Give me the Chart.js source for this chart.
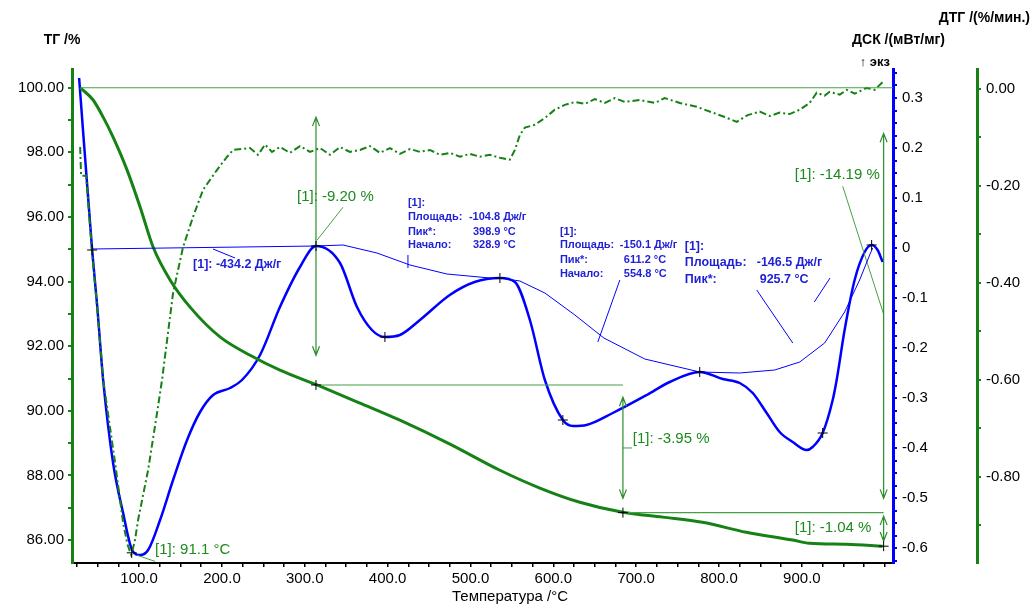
<!DOCTYPE html>
<html>
<head>
<meta charset="utf-8">
<script src="https://cdn.jsdelivr.net/npm/chart.js@4.4.0/dist/chart.umd.min.js"></script>
<style>
    html, body { margin: 0; padding: 0; background: #fff; }
    #wrap { width: 1031px; height: 605px; position: relative; }
</style>
</head>
<body>
<div id="wrap"><canvas id="chart" width="1031" height="605"></canvas></div>
<script>
// ТГ, % (left axis)
const tgTemp   = [29, 44.5, 56.6, 68.6, 85.5, 101.2, 116.9, 137.4, 161.5, 198, 234, 270, 314.7, 366.6, 414.8, 475.2, 535.5, 583.7, 632, 683.8, 732, 780, 833, 889, 909, 954, 997.5];
const tgValues = [100.0, 99.62, 99.09, 98.47, 97.45, 96.31, 95.07, 94.05, 93.21, 92.28, 91.72, 91.26, 90.80, 90.24, 89.71, 88.97, 88.16, 87.61, 87.17, 86.86, 86.71, 86.55, 86.24, 86.0, 85.9, 85.87, 85.81];

// ДСК, мВт/мг (inner right axis)
const dscTemp   = [27.6, 43.3, 49.3, 56.6, 68.6, 80.7, 91.6, 101.2, 110.9, 125.3, 141, 157.9, 173.6, 189.3, 209.8, 224.2, 246, 270, 294.2, 313.5, 342.5, 363, 381, 396.7, 414.8, 439, 475, 505, 535.5, 553.6, 571.7, 589.8, 611.5, 624, 640, 671.8, 712.8, 740.5, 776.7, 804.5, 825, 840.7, 857.5, 873.2, 888.9, 905.8, 913, 925.1, 937.2, 942, 951.6, 963.7, 975.8, 984.2, 991.4, 997.5];
const dscValues = [0.34, -0.004, -0.114, -0.264, -0.43, -0.53, -0.604, -0.614, -0.604, -0.544, -0.464, -0.384, -0.328, -0.294, -0.28, -0.264, -0.214, -0.118, -0.038, 0.004, -0.03, -0.118, -0.164, -0.178, -0.174, -0.144, -0.094, -0.068, -0.06, -0.068, -0.144, -0.264, -0.344, -0.356, -0.354, -0.33, -0.294, -0.268, -0.248, -0.262, -0.27, -0.29, -0.33, -0.368, -0.388, -0.404, -0.398, -0.37, -0.304, -0.264, -0.164, -0.064, -0.008, 0.006, -0.004, -0.028];

// ДТГ, %/мин. (outer right axis)
const dtgTemp   = [28.8, 30.0, 36.1, 43.3, 49.3, 56.6, 71.0, 80.7, 86.0, 90.4, 94.6, 98.8, 110.9, 121.7, 127.7, 141.0, 153.1, 165.1, 177.2, 194.1, 206.2, 213.4, 233.9, 243.5, 252, 260.4, 270.1, 282.1, 294.2, 306.3, 318.4, 330.4, 342.5, 354.5, 366.6, 378.7, 390.7, 402.8, 414.8, 426.9, 439, 451, 463.1, 475.2, 487.2, 499.3, 511.3, 523.4, 535.5, 547.5, 553.6, 559.6, 565.6, 577.7, 589.8, 601.8, 613.9, 626, 638, 650.1, 662.1, 674.2, 686.3, 704.4, 722.5, 734.5, 752.6, 773.1, 792.4, 806.9, 821.4, 834.6, 849.1, 861.2, 873.2, 885.3, 897.4, 909.4, 917.9, 927.5, 933.6, 945.7, 954.1, 963.8, 978.2, 987.9, 997.5];
const dtgValues = [-0.120, -0.179, -0.179, -0.338, -0.449, -0.600, -0.771, -0.895, -0.940, -0.961, -0.935, -0.889, -0.786, -0.668, -0.600, -0.421, -0.326, -0.264, -0.208, -0.167, -0.140, -0.126, -0.122, -0.136, -0.115, -0.130, -0.120, -0.132, -0.118, -0.130, -0.122, -0.136, -0.120, -0.130, -0.126, -0.118, -0.132, -0.122, -0.134, -0.124, -0.130, -0.126, -0.136, -0.132, -0.140, -0.134, -0.140, -0.136, -0.142, -0.146, -0.126, -0.095, -0.080, -0.074, -0.060, -0.043, -0.033, -0.027, -0.031, -0.021, -0.029, -0.019, -0.027, -0.023, -0.029, -0.019, -0.029, -0.037, -0.049, -0.058, -0.068, -0.054, -0.047, -0.056, -0.049, -0.052, -0.043, -0.029, -0.008, -0.014, -0.006, -0.012, -0.002, -0.010, 0.002, -0.002, 0.014];

// Tick label values
const xLabels   = [100, 200, 300, 400, 500, 600, 700, 800, 900];
const tgLabels  = [86, 88, 90, 92, 94, 96, 98, 100];
const dscLabels = [-0.6, -0.5, -0.4, -0.3, -0.2, -0.1, 0, 0.1, 0.2, 0.3];
const dtgLabels = [-0.8, -0.6, -0.4, -0.2, 0];

// Mass-loss steps (TG units): level lines, arrows, labels
const tgLevels = [
    { t1: 29,    t2: 1010,  v: 100.0 },
    { t1: 313.5, t2: 684,   v: 90.80 },
    { t1: 684,   t2: 998.7, v: 86.85 }
];
const tgArrows = [
    { t: 313.5, v1: 99.09, v2: 91.72 },
    { t: 684,   v1: 90.42, v2: 87.29 },
    { t: 998.7, v1: 98.59, v2: 87.29 },
    { t: 998.7, v1: 86.74, v2: 85.97 }
];
const tgTexts = [
    { t: 290.6, v: 96.62, text: '[1]: -9.20 %' },
    { t: 695.9, v: 89.12, text: '[1]: -3.95 %' },
    { t: 891.4, v: 97.29, text: '[1]: -14.19 %' },
    { t: 891.4, v: 86.37, text: '[1]: -1.04 %' },
    { t: 119.3, v: 85.69, text: '[1]: 91.1 °C' }
];
const tgLeaders = [
    [[346.1, 96.30], [314.7, 95.28]],
    [[684, 88.85], [695, 88.85]],
    [[949.3, 96.95], [998.7, 92.99]],
    [[97.6, 85.53], [119.3, 85.34]]
];
const tgCrosses = [[313.5, 90.80], [684, 86.85], [998.7, 85.81]];

// DSC peak evaluation (DSC units)
const dscBaselines = [
    [[43.3, -0.002], [313.5, 0.004]],
    [[313.5, 0.004], [346.1, 0.006], [387.1, -0.01], [426.9, -0.034], [471.5, -0.052], [523.4, -0.06], [535.5, -0.06]],
    [[535.5, -0.06], [559.6, -0.066], [589.8, -0.09], [626, -0.134], [661, -0.18], [710.4, -0.222], [776.7, -0.248]],
    [[776.7, -0.248], [825, -0.25], [867.2, -0.244], [897.4, -0.228], [927.5, -0.19], [951.6, -0.128], [969.7, -0.064], [979.4, -0.024], [985.4, 0.0]]
];
const dscLeaders = [
    [[189.3, -0.002], [215.8, -0.02]],
    [[424.5, -0.014], [424.5, -0.04]],
    [[680.3, -0.064], [653.7, -0.188]],
    [[845.5, -0.084], [889, -0.19]],
    [[934, -0.06], [915, -0.108]]
];
const dscCrosses = [[43.3, -0.004], [313.5, 0.004], [396.7, -0.178], [535.5, -0.06], [611.5, -0.344], [776.7, -0.248], [925.1, -0.37], [984.2, 0.006]];
const dscTexts = [
    { t: 165.1, v: -0.034, text: '[1]: -434.2 Дж/г', size: 12.5 },
    { t: 424.5, v: 0.09,   text: '[1]:', size: 11 },
    { t: 424.5, v: 0.062,  text: 'Площадь:', size: 11 },
    { t: 498.1, v: 0.062,  text: '-104.8 Дж/г', size: 11 },
    { t: 424.5, v: 0.032,  text: 'Пик*:', size: 11 },
    { t: 502.9, v: 0.032,  text: '398.9 °C', size: 11 },
    { t: 424.5, v: 0.006,  text: 'Начало:', size: 11 },
    { t: 502.9, v: 0.006,  text: '328.9 °C', size: 11 },
    { t: 607.9, v: 0.032,  text: '[1]:', size: 11 },
    { t: 607.9, v: 0.006,  text: 'Площадь:', size: 11 },
    { t: 680.3, v: 0.006,  text: '-150.1 Дж/г', size: 11 },
    { t: 607.9, v: -0.024, text: 'Пик*:', size: 11 },
    { t: 685.1, v: -0.024, text: '611.2 °C', size: 11 },
    { t: 607.9, v: -0.052, text: 'Начало:', size: 11 },
    { t: 685.1, v: -0.052, text: '554.8 °C', size: 11 },
    { t: 758.6, v: 0.002,  text: '[1]:', size: 12.5 },
    { t: 758.6, v: -0.03,  text: 'Площадь:', size: 12.5 },
    { t: 845.5, v: -0.03,  text: '-146.5 Дж/г', size: 12.5 },
    { t: 758.6, v: -0.064, text: 'Пик*:', size: 12.5 },
    { t: 849.1, v: -0.064, text: '925.7 °C', size: 12.5 }
];
const dtgCrosses = [[91.1, -0.957]];

const GREEN = '#168216';
const LIGHT_GREEN = '#46a046';
const BLUE = '#0000ff';
const TEXT_BLUE = '#1f1fd6';
const FONT = '"Liberation Sans", Arial, sans-serif';

const toPoints = (xs, ys) => xs.map((t, i) => ({ x: t, y: ys[i] }));

function everyStep(min, max, step) {
    const out = [];
    for (let v = min; v <= max + 1e-9; v += step) out.push(+v.toFixed(4));
    return out;
}
const isLabel = (list, v) => list.some(l => Math.abs(l - v) < 1e-6);

const annotate = {
    id: 'annotate',
    afterDatasetsDraw(chart) {
        const ctx = chart.ctx;
        const sx = chart.scales.x;
        const P = (t, v, ax) => [sx.getPixelForValue(t), chart.scales[ax].getPixelForValue(v)];

        const poly = (pts, ax, color, w) => {
            ctx.beginPath();
            pts.forEach((p, i) => {
                const [px, py] = P(p[0], p[1], ax);
                i ? ctx.lineTo(px, py) : ctx.moveTo(px, py);
            });
            ctx.strokeStyle = color;
            ctx.lineWidth = w;
            ctx.stroke();
        };
        const cross = (p, ax) => {
            const [px, py] = P(p[0], p[1], ax);
            ctx.beginPath();
            ctx.moveTo(px - 5, py); ctx.lineTo(px + 5, py);
            ctx.moveTo(px, py - 5); ctx.lineTo(px, py + 5);
            ctx.strokeStyle = '#000';
            ctx.lineWidth = 1;
            ctx.stroke();
        };

        ctx.save();
        tgLevels.forEach(l => poly([[l.t1, l.v], [l.t2, l.v]], 'yTG', LIGHT_GREEN, 1.2));
        tgLeaders.forEach(l => poly(l, 'yTG', LIGHT_GREEN, 1));

        // vertical double arrows
        tgArrows.forEach(a => {
            const [px, y1] = P(a.t, a.v1, 'yTG');
            const y2 = chart.scales.yTG.getPixelForValue(a.v2);
            ctx.beginPath();
            ctx.moveTo(px, y1); ctx.lineTo(px, y2);
            ctx.moveTo(px - 3.5, y1 + 9); ctx.lineTo(px, y1); ctx.lineTo(px + 3.5, y1 + 9);
            ctx.moveTo(px - 3.5, y2 - 9); ctx.lineTo(px, y2); ctx.lineTo(px + 3.5, y2 - 9);
            ctx.strokeStyle = '#2a8f2a';
            ctx.lineWidth = 1.2;
            ctx.stroke();
        });

        dscBaselines.forEach(b => poly(b, 'yDSC', BLUE, 1));
        dscLeaders.forEach(l => poly(l, 'yDSC', BLUE, 1));

        tgCrosses.forEach(p => cross(p, 'yTG'));
        dscCrosses.forEach(p => cross(p, 'yDSC'));
        dtgCrosses.forEach(p => cross(p, 'yDTG'));

        ctx.textBaseline = 'middle';
        ctx.textAlign = 'left';
        ctx.font = '15px ' + FONT;
        ctx.fillStyle = '#1d8a1d';
        tgTexts.forEach(s => {
            const [px, py] = P(s.t, s.v, 'yTG');
            ctx.fillText(s.text, px, py);
        });
        ctx.fillStyle = TEXT_BLUE;
        dscTexts.forEach(s => {
            const [px, py] = P(s.t, s.v, 'yDSC');
            ctx.font = 'bold ' + s.size + 'px ' + FONT;
            ctx.fillText(s.text, px, py);
        });
        ctx.restore();
    },
    afterDraw(chart) {
        const ctx = chart.ctx;
        ctx.save();
        ctx.fillStyle = '#000';
        ctx.textBaseline = 'middle';
        ctx.font = 'bold 14px ' + FONT;
        ctx.textAlign = 'center';
        ctx.fillText('ТГ /%', 62, 40);
        ctx.textAlign = 'right';
        ctx.fillText('ДТГ /(%/мин.)', 1030, 18);
        ctx.fillText('ДСК /(мВт/мг)', 945, 40);
        ctx.font = 'bold 13px ' + FONT;
        ctx.fillText('↑ экз', 890, 62);
        ctx.font = '15px ' + FONT;
        ctx.textAlign = 'center';
        ctx.fillText('Температура /°C', 510, 597);
        ctx.restore();
    }
};

function fixedWidth(w) { return scale => { scale.width = w; }; }

new Chart(document.getElementById('chart'), {
    type: 'line',
    data: {
        datasets: [
            {
                label: 'ДТГ',
                data: toPoints(dtgTemp, dtgValues),
                yAxisID: 'yDTG',
                borderColor: GREEN,
                borderWidth: 2,
                borderDash: [7, 3, 2, 3],
                pointRadius: 0,
                tension: 0
            },
            {
                label: 'ТГ',
                data: toPoints(tgTemp, tgValues),
                yAxisID: 'yTG',
                borderColor: GREEN,
                borderWidth: 3,
                pointRadius: 0,
                cubicInterpolationMode: 'monotone'
            },
            {
                label: 'ДСК',
                data: toPoints(dscTemp, dscValues),
                yAxisID: 'yDSC',
                borderColor: BLUE,
                borderWidth: 2.5,
                pointRadius: 0,
                cubicInterpolationMode: 'monotone'
            }
        ]
    },
    options: {
        responsive: false,
        animation: false,
        layout: { padding: { top: 69, left: 0, right: 0, bottom: 0 } },
        plugins: { legend: { display: false }, tooltip: { enabled: false } },
        scales: {
            x: {
                type: 'linear',
                min: 19, max: 1010,
                afterFit: scale => { scale.height = 42; },
                afterBuildTicks: scale => { scale.ticks = everyStep(25, 1000, 25).map(v => ({ value: v })); },
                border: { display: true, color: '#000', width: 2 },
                grid: { drawOnChartArea: false, drawTicks: true, tickLength: 4, color: '#000', lineWidth: 1.5 },
                ticks: {
                    autoSkip: false, maxRotation: 0, padding: 3,
                    color: '#000', font: { family: FONT, size: 15 },
                    callback: v => isLabel(xLabels, v) ? v.toFixed(1) : ''
                }
            },
            yTG: {
                type: 'linear', position: 'left',
                min: 85.29, max: 100.58,
                afterFit: fixedWidth(72),
                afterBuildTicks: scale => { scale.ticks = everyStep(86, 100, 1).map(v => ({ value: v })); },
                border: { display: true, color: GREEN, width: 3 },
                grid: { drawOnChartArea: false, drawTicks: true, tickLength: 4, color: GREEN, lineWidth: 2 },
                ticks: {
                    autoSkip: false, padding: 4,
                    color: '#000', font: { family: FONT, size: 15 },
                    callback: v => isLabel(tgLabels, v) ? v.toFixed(2) : ''
                }
            },
            yDSC: {
                type: 'linear', position: 'right', weight: 0,
                min: -0.63, max: 0.358,
                afterFit: fixedWidth(84),
                afterBuildTicks: scale => { scale.ticks = everyStep(-0.625, 0.35, 0.025).map(v => ({ value: v })); },
                border: { display: true, color: BLUE, width: 3 },
                grid: { drawOnChartArea: false, drawTicks: true, tickLength: 4, color: BLUE, lineWidth: 2 },
                ticks: {
                    autoSkip: false, padding: 5,
                    color: '#000', font: { family: FONT, size: 15 },
                    callback: v => isLabel(dscLabels, v) ? (Math.abs(v) < 1e-6 ? '0' : v.toFixed(1)) : ''
                }
            },
            yDTG: {
                type: 'linear', position: 'right', weight: 1,
                min: -0.978, max: 0.041,
                afterFit: fixedWidth(54),
                afterBuildTicks: scale => { scale.ticks = everyStep(-0.9, 0, 0.1).map(v => ({ value: v })); },
                border: { display: true, color: GREEN, width: 3 },
                grid: { drawOnChartArea: false, drawTicks: true, tickLength: 4, color: GREEN, lineWidth: 2 },
                ticks: {
                    autoSkip: false, padding: 5,
                    color: '#000', font: { family: FONT, size: 15 },
                    callback: v => isLabel(dtgLabels, v) ? (Math.abs(v) < 1e-6 ? '0.00' : v.toFixed(2)) : ''
                }
            }
        }
    },
    plugins: [annotate]
});
</script>
</body>
</html>
